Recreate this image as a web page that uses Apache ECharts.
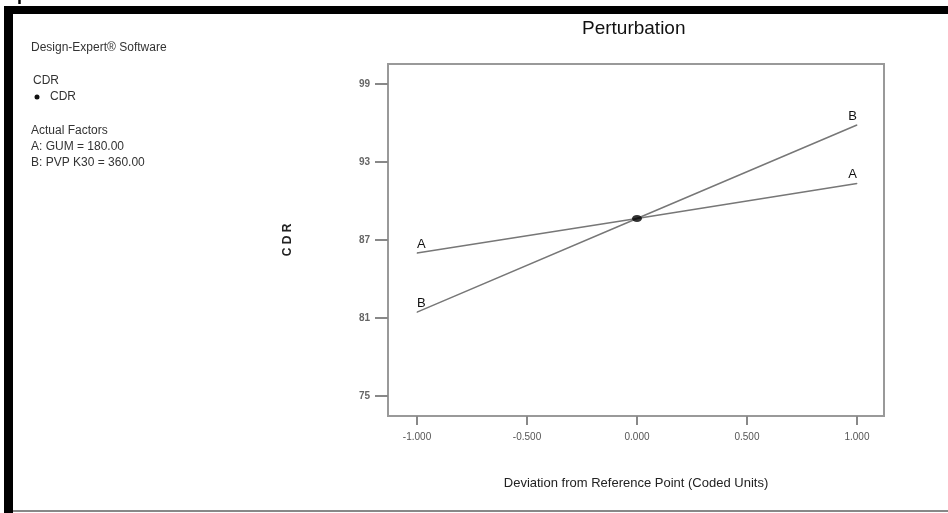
<!DOCTYPE html>
<html>
<head>
<meta charset="utf-8">
<script src="https://cdn.jsdelivr.net/npm/echarts@6/dist/echarts.min.js"></script>
<style>
  html, body { margin: 0; padding: 0; background: #fff; }
  #chart { width: 948px; height: 513px; }
</style>
</head>
<body>
<div id="chart"></div>
<script>
// deviation from reference point (coded units)
var deviation = [-1, 0, 1];
// CDR response along each factor
var factorA = [86.0, 88.65, 91.35];   // A: GUM
var factorB = [81.45, 88.65, 95.85];  // B: PVP K30
var refPoint = [0, 88.65];
var xTicks = [-1, -0.5, 0, 0.5, 1];
var yTicks = [75, 81, 87, 93, 99];
var factorText = ["Actual Factors", "A: GUM = 180.00", "B: PVP K30 = 360.00"];

var font = "Liberation Sans, Arial, sans-serif";

// label only the two ends of a trace
function traceData(vals) {
  return deviation.map(function (x, i) {
    var item = { value: [x, vals[i]] };
    if (i === 0) {
      item.label = { show: true, align: "left" };
    } else if (i === vals.length - 1) {
      item.label = { show: true, align: "right" };
    }
    return item;
  });
}

function trace(name, vals) {
  return {
    name: name,
    type: "line",
    data: traceData(vals),
    symbol: "circle",
    symbolSize: 1,
    itemStyle: { color: "#777" },
    lineStyle: { color: "#777", width: 1.5 },
    label: {
      show: false,
      position: "top",
      distance: 2,
      formatter: name,
      color: "#111",
      fontSize: 13,
      fontFamily: font
    },
    silent: true,
    z: 2
  };
}

document.addEventListener("DOMContentLoaded", () => {
  var chart = echarts.init(document.querySelector("#chart"));

  chart.setOption({
    animation: false,
    backgroundColor: "#fff",
    grid: {
      left: 388,
      top: 64,
      right: 64,
      bottom: 97,
      show: true,
      borderColor: "#999",
      borderWidth: 2
    },
    xAxis: {
      type: "value",
      min: -1.132,
      max: 1.123,
      splitLine: { show: false },
      axisLine: { show: false, onZero: false },
      axisTick: {
        show: true,
        length: 9,
        customValues: xTicks,
        lineStyle: { color: "#888", width: 2 }
      },
      axisLabel: {
        customValues: xTicks,
        margin: 16,
        color: "#555",
        fontSize: 10,
        fontFamily: font,
        formatter: function (v) { return v.toFixed(3); }
      },
      name: "Deviation from Reference Point (Coded Units)",
      nameLocation: "middle",
      nameGap: 61,
      nameTextStyle: { color: "#222", fontSize: 13, fontFamily: font }
    },
    yAxis: {
      type: "value",
      min: 73.46,
      max: 100.54,
      splitLine: { show: false },
      axisLine: { show: false, onZero: false },
      axisTick: {
        show: true,
        length: 13,
        customValues: yTicks,
        lineStyle: { color: "#888", width: 2 }
      },
      axisLabel: {
        customValues: yTicks,
        margin: 18,
        color: "#666",
        fontSize: 10,
        fontWeight: "bold",
        fontFamily: font
      },
      name: "C D R",
      nameLocation: "middle",
      nameGap: 94,
      nameRotate: 90,
      nameTextStyle: { color: "#222", fontSize: 12, fontWeight: "bold", fontFamily: font }
    },
    series: [
      trace("A", factorA),
      trace("B", factorB),
      {
        type: "scatter",
        data: [refPoint],
        symbol: "circle",
        symbolSize: [10, 7],
        itemStyle: { color: "#000" },
        silent: true,
        z: 3
      }
    ],
    graphic: [
      // frame of the figure
      { type: "rect", shape: { x: 4, y: 6, width: 944, height: 8 }, style: { fill: "#000" } },
      { type: "rect", shape: { x: 4, y: 6, width: 9, height: 507 }, style: { fill: "#000" } },
      { type: "rect", shape: { x: 13, y: 510, width: 935, height: 2 }, style: { fill: "#888" } },
      { type: "text", left: 17, top: -14, style: { text: "p", font: "bold 18px " + font, fill: "#000" } },
      // title
      { type: "text", left: 582, top: 19, style: { text: "Perturbation", font: "19px " + font, fill: "#111" } },
      // side legend
      { type: "text", left: 31, top: 42, style: { text: "Design-Expert® Software", font: "12px " + font, fill: "#333" } },
      { type: "text", left: 33, top: 75, style: { text: "CDR", font: "12px " + font, fill: "#333" } },
      { type: "circle", shape: { cx: 37, cy: 97, r: 2.5 }, style: { fill: "#111" } },
      { type: "text", left: 50, top: 91, style: { text: "CDR", font: "12px " + font, fill: "#333" } },
      { type: "text", left: 31, top: 123, style: { text: factorText.join("\n"), font: "12px " + font, fill: "#333", lineHeight: 16 } }
    ]
  });
});
</script>
</body>
</html>
